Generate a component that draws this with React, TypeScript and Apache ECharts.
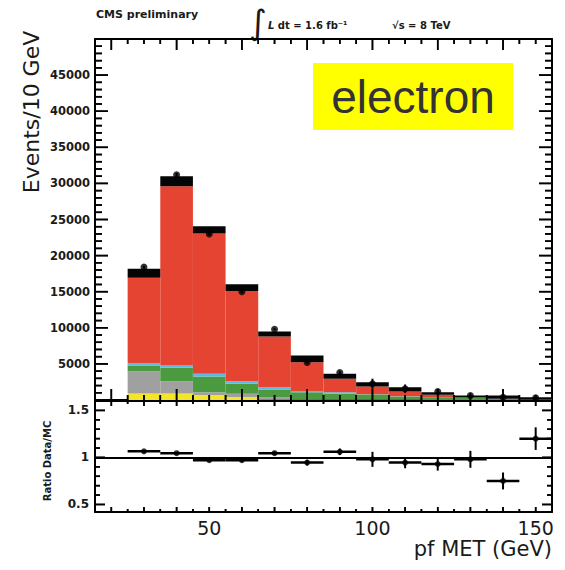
import React, { useEffect, useRef } from "react";
import * as echarts from "echarts";

// ---- binning (GeV) ----
const binLow = [25, 35, 45, 55, 65, 75, 85, 95, 105, 115, 125, 135, 145];
const binCenter = [30, 40, 50, 60, 70, 80, 90, 100, 110, 120, 130, 140, 150];
const BIN_W = 10;

// ---- stacked MC components (events / bin), bottom to top ----
const yellowBkg = [900, 900, 700, 420, 60, 20, 10, 5, 5, 5, 0, 0, 0];
const grayBkg = [3090, 1710, 380, 440, 300, 100, 50, 25, 15, 10, 5, 5, 5];
const greenBkg = [790, 1860, 2180, 1390, 1100, 960, 800, 730, 465, 350, 300, 150, 80];
const cyanBkg = [320, 310, 370, 360, 320, 80, 220, 40, 20, 10, 5, 5, 0];
const redSignal = [11845, 24828, 19418, 12478, 7026, 4082, 1860, 1072, 674, 351, 30, 20, 10];
const blackBand = [1250, 1390, 1010, 930, 690, 930, 690, 600, 600, 360, 290, 440, 300];

// ---- data ----
const dataEvents = [18400, 31200, 23000, 15000, 9800, 5200, 3800, 2250, 1550, 1180, 620, 380, 300];
const dataErr = [200, 250, 200, 180, 150, 150, 200, 700, 600, 350, 300, 250, 200];

// ---- ratio data / MC ----
const ratioVal = [1.065, 1.045, 0.97, 0.97, 1.045, 0.945, 1.06, 0.98, 0.945, 0.93, 0.98, 0.75, 1.2];
const ratioErr = [0.015, 0.012, 0.012, 0.015, 0.02, 0.03, 0.035, 0.08, 0.06, 0.07, 0.09, 0.09, 0.12];

// ---- tick labels ----
const xTickLabels = [50, 100, 150];
const yTickLabels = [5000, 10000, 15000, 20000, 25000, 30000, 35000, 40000, 45000];
const ratioTickLabels = [0.5, 1, 1.5];

const X_MIN = 15;
const X_MAX = 155;
const Y_MAX = 50000;
const R_MIN = 0.42;
const R_MAX = 1.6;

const FONT = "DejaVu Sans";
const TW = 1.6;

// tick mark rect (pixel space) from an edge point and a signed pixel offset
const tickRect = (p: number[], dx: number, dy: number) =>
  dx === 0
    ? { x: p[0] - TW / 2, y: Math.min(p[1], p[1] + dy), width: TW, height: Math.abs(dy) }
    : { x: Math.min(p[0], p[0] + dx), y: p[1] - TW / 2, width: Math.abs(dx), height: TW };

export default function App() {
  const ref = useRef<HTMLDivElement>(null);

  useEffect(() => {
    if (!ref.current) return;
    const chart = echarts.init(ref.current, null, { renderer: "svg" });

    const layers = [
      { name: "yellow", values: yellowBkg, color: "#F3E52A" },
      { name: "gray", values: grayBkg, color: "#A0A0A0" },
      { name: "green", values: greenBkg, color: "#4B9A40" },
      { name: "cyan", values: cyanBkg, color: "#5DB8E2" },
      { name: "red", values: redSignal, color: "#E54432" },
      { name: "band", values: blackBand, color: "#050505" },
    ];
    const cum = binLow.map(() => 0);
    const stackSeries = layers.map((layer) => {
      const data = binLow.map((lo, i) => {
        const y0 = cum[i];
        const y1 = y0 + layer.values[i];
        cum[i] = y1;
        return [lo, lo + BIN_W, y0, y1];
      });
      return {
        type: "custom",
        name: layer.name,
        xAxisIndex: 0,
        yAxisIndex: 0,
        encode: { x: [0, 1], y: [2, 3] },
        data,
        z: 2,
        renderItem: (_p: any, api: any) => {
          const a = api.coord([api.value(0), api.value(3)]);
          const b = api.coord([api.value(1), api.value(2)]);
          return {
            type: "rect",
            shape: { x: a[0], y: a[1], width: b[0] - a[0], height: b[1] - a[1] },
            style: { fill: layer.color },
          };
        },
      };
    });

    // ---- tick definitions: [x, y, dxPx, dyPx] (inside the frame, all four sides) ----
    const upTicks: number[][] = [];
    const rTicks: number[][] = [];
    for (let v = 20; v <= 150; v += 5) {
      const len = v % 20 === 0 ? 11 : 5;
      upTicks.push([v, 0, 0, -len], [v, Y_MAX, 0, len]);
      const lr = v % 10 === 0 ? 5 : 3;
      rTicks.push([v, R_MIN, 0, -lr], [v, R_MAX, 0, lr]);
    }
    for (let v = 1000; v < Y_MAX; v += 1000) {
      const len = v % 5000 === 0 ? 13 : 7;
      upTicks.push([X_MIN, v, len, 0], [X_MAX, v, -len, 0]);
    }
    for (let k = 5; k <= 15; k++) {
      const len = k % 5 === 0 ? 10 : 5;
      rTicks.push([X_MIN, k / 10, len, 0], [X_MAX, k / 10, -len, 0]);
    }
    const tickGroupSeries = (ax: number, anchor: number[], ticks: number[][]) => ({
      type: "custom",
      xAxisIndex: ax,
      yAxisIndex: ax,
      encode: { x: 0, y: 1 },
      data: [anchor],
      z: 9,
      renderItem: (_p: any, api: any) => ({
        type: "group",
        children: ticks.map((t) => ({
          type: "rect",
          shape: tickRect(api.coord([t[0], t[1]]), t[2], t[3]),
          style: { fill: "#000" },
        })),
      }),
    });

    const frameLine = { show: true, onZero: false, lineStyle: { color: "#000", width: 2 } };
    const mkAxis = (gridIndex: number, position: string, min: number, max: number, label?: any) => ({
      type: "value",
      gridIndex,
      position,
      min,
      max,
      axisLine: frameLine,
      axisTick: { show: false },
      splitLine: { show: false },
      axisLabel: label ?? { show: false },
    });

    const textGraphics: any[] = [
      {
        type: "text",
        x: 96,
        y: 14,
        style: { text: "CMS preliminary", font: `bold 11px "${FONT}"`, fill: "#1a1a1a", verticalAlign: "middle" },
      },
      {
        type: "text",
        x: 258,
        y: 22,
        style: { text: "∫", font: `34px "${FONT}"`, fill: "#1a1a1a", align: "center", verticalAlign: "middle" },
      },
      {
        type: "text",
        x: 268,
        y: 25,
        style: {
          text: "{i|L} dt = 1.6 fb⁻¹",
          font: `bold 10px "${FONT}"`,
          fill: "#1a1a1a",
          verticalAlign: "middle",
          rich: { i: { font: `italic bold 10px "${FONT}"`, fill: "#1a1a1a" } },
        },
      },
      {
        type: "text",
        x: 392,
        y: 25,
        style: { text: "√s = 8 TeV", font: `bold 10px "${FONT}"`, fill: "#1a1a1a", verticalAlign: "middle" },
      },
      {
        type: "text",
        x: 31,
        y: 112,
        rotation: Math.PI / 2,
        style: {
          text: "Events/10 GeV",
          font: `22px "${FONT}"`,
          fill: "#1a1a1a",
          align: "center",
          verticalAlign: "middle",
        },
      },
      {
        type: "text",
        x: 47,
        y: 461,
        rotation: Math.PI / 2,
        style: {
          text: "Ratio Data/MC",
          font: `bold 10px "${FONT}"`,
          fill: "#1a1a1a",
          align: "center",
          verticalAlign: "middle",
        },
      },
      {
        type: "text",
        x: 552,
        y: 549,
        style: { text: "pf MET (GeV)", font: `21px "${FONT}"`, fill: "#1a1a1a", align: "right", verticalAlign: "middle" },
      },
      { type: "rect", shape: { x: 313, y: 63, width: 200, height: 67 }, style: { fill: "#FFFF00" }, z: 10 },
      {
        type: "text",
        x: 413,
        y: 97,
        z: 11,
        style: {
          text: "electron",
          font: `46px "Liberation Sans"`,
          fill: "#333333",
          align: "center",
          verticalAlign: "middle",
        },
      },
    ];

    const option: any = {
      animation: false,
      backgroundColor: "#ffffff",
      grid: [
        { left: 95, right: 13, top: 39, height: 361 },
        { left: 95, right: 13, top: 401, height: 111 },
      ],
      xAxis: [
        mkAxis(0, "bottom", X_MIN, X_MAX),
        mkAxis(0, "top", X_MIN, X_MAX),
        mkAxis(1, "bottom", X_MIN, X_MAX, {
          show: true,
          customValues: xTickLabels,
          margin: 6,
          fontFamily: FONT,
          fontSize: 19,
          color: "#1a1a1a",
        }),
        mkAxis(1, "top", X_MIN, X_MAX),
      ],
      yAxis: [
        mkAxis(0, "left", 0, Y_MAX, {
          show: true,
          customValues: yTickLabels,
          margin: 5,
          fontFamily: FONT,
          fontWeight: "bold",
          fontSize: 11.5,
          color: "#1a1a1a",
          formatter: (v: number) => String(v),
        }),
        mkAxis(0, "right", 0, Y_MAX),
        mkAxis(1, "left", R_MIN, R_MAX, {
          show: true,
          customValues: ratioTickLabels,
          margin: 6,
          fontFamily: FONT,
          fontWeight: "bold",
          fontSize: 12,
          color: "#1a1a1a",
          formatter: (v: number) => String(Math.round(v * 10) / 10),
        }),
        mkAxis(1, "right", R_MIN, R_MAX),
      ],
      series: [
        ...stackSeries,
        tickGroupSeries(0, [85, 25000], upTicks),
        tickGroupSeries(2, [85, 1], rTicks),
        {
          type: "custom",
          name: "dataErr",
          xAxisIndex: 0,
          yAxisIndex: 0,
          encode: { x: 0, y: 1 },
          data: binCenter.map((c, i) => [c, dataEvents[i], dataErr[i]]),
          z: 6,
          renderItem: (_p: any, api: any) => {
            const a = api.coord([api.value(0), api.value(1) - api.value(2)]);
            const b = api.coord([api.value(0), api.value(1) + api.value(2)]);
            return {
              type: "line",
              shape: { x1: a[0], y1: a[1], x2: b[0], y2: b[1] },
              style: { stroke: "#000", lineWidth: 2 },
            };
          },
        },
        {
          type: "scatter",
          name: "data",
          xAxisIndex: 0,
          yAxisIndex: 0,
          data: binCenter.map((c, i) => [c, dataEvents[i]]),
          symbol: "circle",
          symbolSize: 7,
          itemStyle: { color: "#000" },
          z: 7,
        },
        {
          type: "custom",
          name: "ratioErr",
          xAxisIndex: 2,
          yAxisIndex: 2,
          encode: { x: 0, y: 1 },
          data: binCenter.map((c, i) => [c, ratioVal[i], ratioErr[i]]),
          z: 6,
          renderItem: (_p: any, api: any) => {
            const x = api.value(0);
            const r = api.value(1);
            const e = api.value(2);
            const l = api.coord([x - BIN_W / 2, r]);
            const rr = api.coord([x + BIN_W / 2, r]);
            const lo = api.coord([x, r - e]);
            const hi = api.coord([x, r + e]);
            return {
              type: "group",
              children: [
                { type: "line", shape: { x1: l[0], y1: l[1], x2: rr[0], y2: rr[1] }, style: { stroke: "#000", lineWidth: 2.5 } },
                { type: "line", shape: { x1: lo[0], y1: lo[1], x2: hi[0], y2: hi[1] }, style: { stroke: "#000", lineWidth: 2 } },
              ],
            };
          },
        },
        {
          type: "scatter",
          name: "ratio",
          xAxisIndex: 2,
          yAxisIndex: 2,
          data: binCenter.map((c, i) => [c, ratioVal[i]]),
          symbol: "circle",
          symbolSize: 6,
          itemStyle: { color: "#000" },
          z: 7,
          markLine: {
            silent: true,
            symbol: "none",
            label: { show: false },
            lineStyle: { color: "#000", width: 2, type: "solid" },
            data: [{ yAxis: 1 }],
          },
        },
      ],
      graphic: textGraphics,
    };

    chart.setOption(option);

    // second path for the tick marks: filled rects placed through the library's pixel conversion
    const tickEls: any[] = [];
    const addTicks = (ax: number, ticks: number[][]) => {
      ticks.forEach((t) => {
        const p = chart.convertToPixel({ xAxisIndex: ax, yAxisIndex: ax } as any, [t[0], t[1]]) as number[];
        if (!p || isNaN(p[0]) || isNaN(p[1])) return;
        tickEls.push({ type: "rect", z: 20, silent: true, shape: tickRect(p, t[2], t[3]), style: { fill: "#000" } });
      });
    };
    addTicks(0, upTicks);
    addTicks(2, rTicks);
    chart.setOption({ graphic: [...textGraphics, ...tickEls] });

    return () => chart.dispose();
  }, []);

  return <div ref={ref} style={{ width: 565, height: 570, position: "absolute", left: 0, top: 0 }} />;
}
